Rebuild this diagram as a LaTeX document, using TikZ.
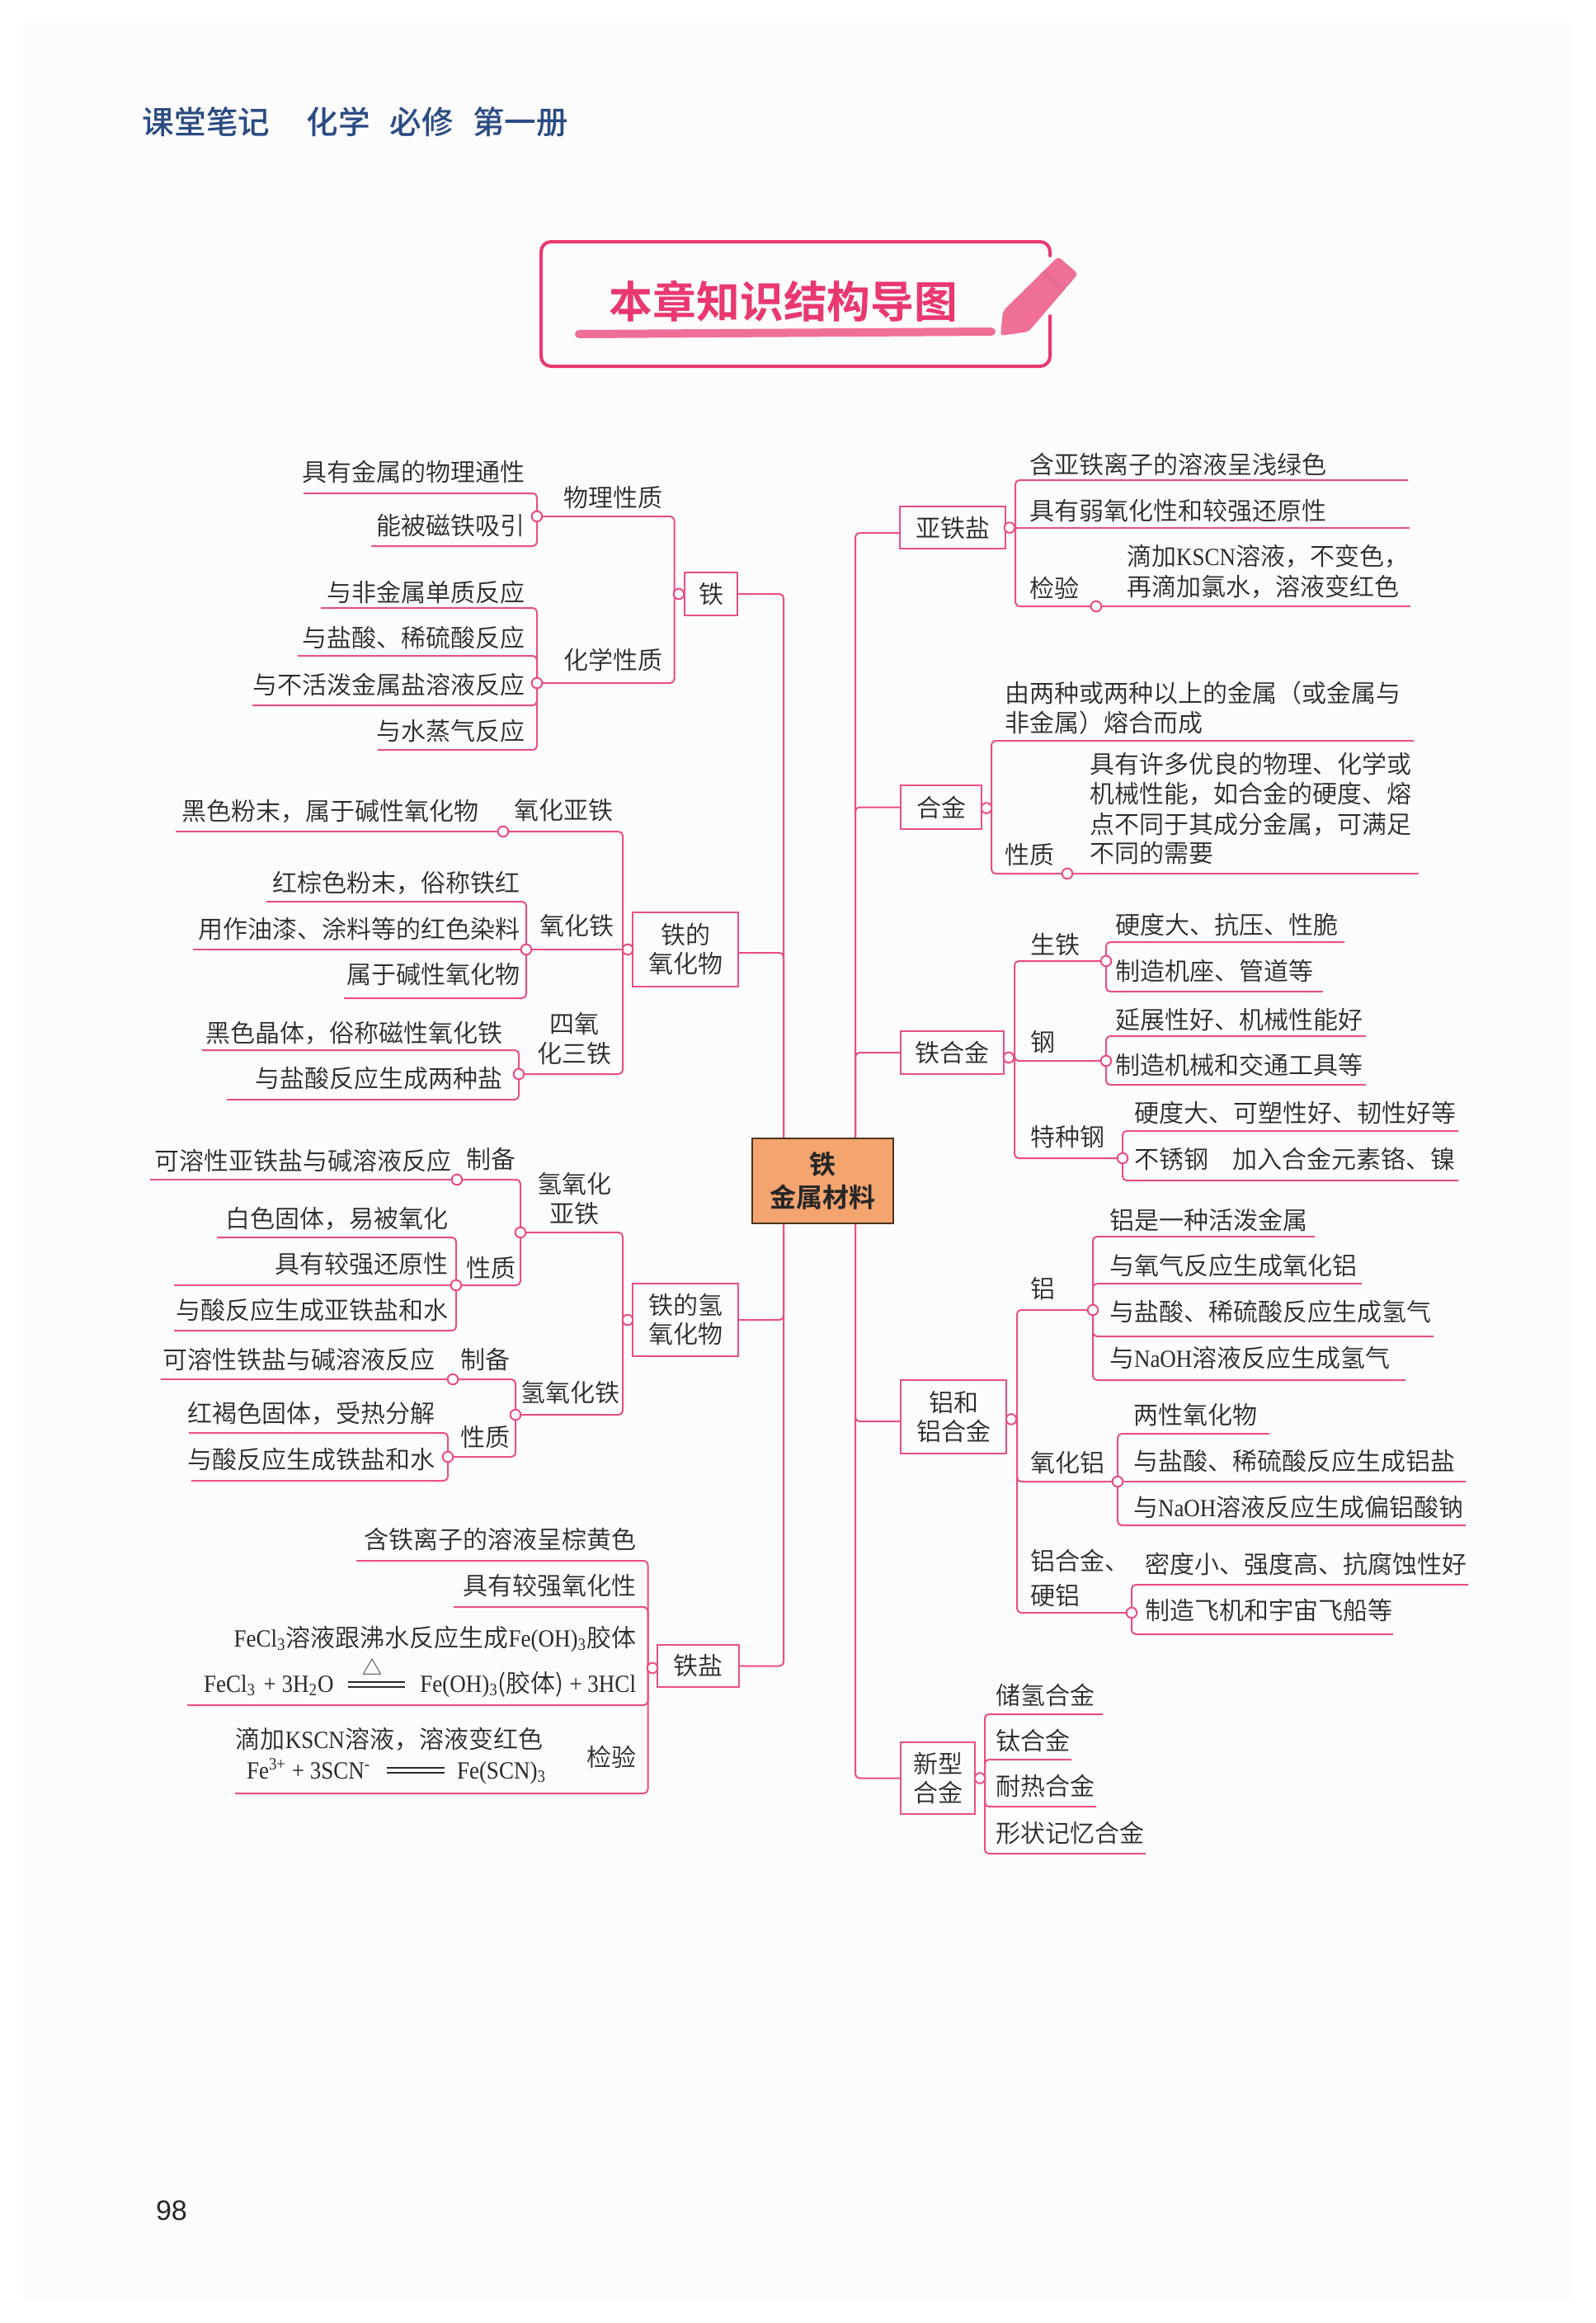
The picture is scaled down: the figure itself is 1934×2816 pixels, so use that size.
\documentclass[tikz,border=0pt]{standalone}
\usepackage{fontspec}
\setmainfont{Noto Sans CJK SC}[UprightFont=* DemiLight,BoldFont=* Bold]
\newfontfamily\latfont[FakeStretch=0.9]{Liberation Serif}
\newfontfamily\medfont{Noto Sans CJK SC Medium}
\newfontfamily\numfont{Liberation Sans}
\newcommand{\latn}[1]{{\latfont #1}}
\definecolor{linkpink}{HTML}{EA4F80}
\definecolor{titlepink}{HTML}{E9386F}
\definecolor{titlelight}{HTML}{EF6F96}
\definecolor{pencilband}{HTML}{EA6A92}
\definecolor{hubfill}{HTML}{F3A46F}
\definecolor{hubline}{HTML}{4A3420}
\definecolor{headblue}{HTML}{2B4B82}
\definecolor{inkgray}{HTML}{2A2A2A}
\definecolor{pagebg}{HTML}{FCFCFD}
\tikzset{
  line/.style={color=linkpink,line width=1pt,rounded corners=2.5pt},
  txt/.style={text=inkgray,font=\fontsize{15}{18}\selectfont,text height=13.2pt,text depth=1.8pt,inner sep=0pt,outer sep=0pt},
  tl/.style={txt,anchor=east},
  tr/.style={txt,anchor=west},
  tc/.style={txt,anchor=center},
  box/.style={draw=linkpink,line width=1pt,text=inkgray,font=\fontsize{15}{17.5}\selectfont,align=center,inner sep=0pt,outer sep=0pt},
  dot/.style={circle,draw=linkpink,fill=white,line width=1pt,minimum size=6.3pt,inner sep=0pt,outer sep=0pt},
  hub/.style={draw=hubline,fill=hubfill,line width=1pt,text=black!85,font=\bfseries\fontsize{16}{20}\selectfont,align=center,minimum width=85.5pt,minimum height=51.5pt,inner sep=0pt},
  head/.style={text=headblue,font=\medfont\fontsize{19.3}{22}\selectfont,inner sep=0pt},
  eqbar/.style={color=inkgray,line width=0.7pt,double=white,double distance=2.2pt}
}
\begin{document}
\begin{tikzpicture}[x=0.5pt,y=-0.5pt]
\useasboundingbox (0,0) rectangle (1934,2816);
\fill[pagebg] (28,28) rectangle (1906,2788);

\node[head] (hdA) at (250,148) {课堂笔记};
\node[head] (hdB) at (410,148) {化学};
\node[head] (hdC) at (511,148) {必修};
\node[head] (hdD) at (631,148) {第一册};
\node[txt,text=black!85,font=\numfont\fontsize{17}{20}\selectfont,text height=12pt,text depth=0pt] (pageno) at (208,2679) {98};

\draw[color=titlepink,line width=2pt,rounded corners=6pt,line cap=round] (1273,310) -- (1273,293) -- (656,293) -- (656,444) -- (1273,444) -- (1273,383);
\node[inner sep=0pt,text=titlepink,font=\bfseries\fontsize{26.4}{30}\selectfont] (title) at (950,365) {本章知识结构导图};
\draw[color=titlelight,line width=5pt,line cap=round] (702,405) -- (1202,402);
\fill[titlelight,rounded corners=2pt] (1213,407) -- (1216,377) -- (1283,311) -- (1307,332) -- (1247,402) -- cycle;
\fill[pencilband] (1262,332) -- (1267,327) -- (1292,349) -- (1288,354) -- cycle;

\node[box,minimum width=32pt,minimum height=26pt] (tie) at (862,720) {铁};
\node[box,minimum width=64pt,minimum height=44.8pt] (yanghua) at (831,1151) {铁的\\氧化物};
\node[box,minimum width=64pt,minimum height=44.3pt] (qingyang) at (831,1600) {铁的氢\\氧化物};
\node[box,minimum width=49.5pt,minimum height=25.5pt] (tieyan) at (846.5,2019.5) {铁盐};
\node[box,minimum width=64pt,minimum height=25.7pt] (yatie) at (1155,639.6) {亚铁盐};
\node[box,minimum width=49pt,minimum height=26.2pt] (hejin) at (1141,978.5) {合金};
\node[box,minimum width=62.5pt,minimum height=25.8pt] (tiehj) at (1154.5,1276) {铁合金};
\node[box,minimum width=64pt,minimum height=44.3pt] (lvhj) at (1156,1717.5) {铝和\\铝合金};
\node[box,minimum width=45pt,minimum height=43.8pt] (xinxing) at (1137,2155.5) {新型\\合金};

\coordinate (ltrunk) at (950,1431);
\coordinate (rtrunk) at (1037,1431);
\coordinate (oxj) at (895,1155);
\coordinate (fsj) at (1091,646);
\coordinate (ljj) at (1092,1723);
\draw[line] (tie.east) -| (ltrunk);
\draw[line] (oxj) -| (ltrunk);
\draw[line] (qingyang.east) -| (ltrunk);
\draw[line] (tieyan.east) -| (ltrunk);
\draw[line] (fsj) -| (rtrunk);
\draw[line] (hejin.west) -| (rtrunk);
\draw[line] (tiehj.west) -| (rtrunk);
\draw[line] (ljj) -| (rtrunk);
\draw[line] (xinxing.west) -| (rtrunk);

\coordinate (tieV) at (817.5,720);
\node[dot] (wlD) at (651,626) {};
\node[dot] (hxD) at (651,828) {};
\coordinate (wlA) at (368,598);
\coordinate (wlB) at (450,662);
\coordinate (hxA) at (389,737);
\coordinate (hxB) at (361,795);
\coordinate (hxC) at (306,855);
\coordinate (hxE) at (458,909);
\draw[line] (wlA) -| (wlD);
\draw[line] (wlB) -| (wlD);
\draw[line] (hxA) -| (hxD);
\draw[line] (hxB) -| (hxD);
\draw[line] (hxC) -| (hxD);
\draw[line] (hxE) -| (hxD);
\draw[line] (wlD) -| (tieV);
\draw[line] (hxD) -| (tieV);
\draw[line] (tieV) -- (tie.west);
\node[dot] (tieD) at (823,720) {};
\node[tl] (wlAt) at (636,572) {具有金属的物理通性};
\node[tl] (wlBt) at (636,637) {能被磁铁吸引};
\node[tc] (wlT) at (743,603) {物理性质};
\node[tl] (hxAt) at (636,718) {与非金属单质反应};
\node[tl] (hxBt) at (636,773) {与盐酸、稀硫酸反应};
\node[tl] (hxCt) at (636,830) {与不活泼金属盐溶液反应};
\node[tl] (hxEt) at (636,886) {与水蒸气反应};
\node[tc] (hxT) at (743,800) {化学性质};

\coordinate (oxV) at (755,1151);
\node[dot] (fgD) at (610,1008) {};
\node[dot] (foD) at (638,1151) {};
\node[dot] (ftD) at (629,1302) {};
\coordinate (fgA) at (213,1008);
\coordinate (foA) at (323,1093);
\coordinate (foB) at (234,1151);
\coordinate (foC) at (417,1210);
\coordinate (ftA) at (245,1273);
\coordinate (ftB) at (275,1333);
\draw[line] (fgA) -- (fgD);
\draw[line] (fgD) -| (oxV);
\draw[line] (foA) -| (foD);
\draw[line] (foB) -- (foD);
\draw[line] (foC) -| (foD);
\draw[line] (foD) -- (oxV);
\draw[line] (ftA) -| (ftD);
\draw[line] (ftB) -| (ftD);
\draw[line] (ftD) -| (oxV);
\draw[line] (oxV) -- (yanghua.west);
\node[dot] (oxD) at (761,1151) {};
\node[tl] (fgAt) at (580,983) {黑色粉末，属于碱性氧化物};
\node[tc] (fgT) at (683,982) {氧化亚铁};
\node[tl] (foAt) at (630,1070) {红棕色粉末，俗称铁红};
\node[tl] (foBt) at (630,1126) {用作油漆、涂料等的红色染料};
\node[tl] (foCt) at (630,1181) {属于碱性氧化物};
\node[tc] (foT) at (699,1122) {氧化铁};
\node[tl] (ftAt) at (609,1252) {黑色晶体，俗称磁性氧化铁};
\node[tl] (ftBt) at (609,1307) {与盐酸反应生成两种盐};
\node[tc] (ftTa) at (696,1241) {四氧};
\node[tc] (ftTb) at (696,1277) {化三铁};

\coordinate (qyV) at (755,1600);
\node[dot] (febD) at (631,1494) {};
\node[dot] (fbzD) at (554,1430) {};
\node[dot] (fbxD) at (553,1558) {};
\node[dot] (fcD) at (625,1715) {};
\node[dot] (fczD) at (549,1672) {};
\node[dot] (fcxD) at (543,1766) {};
\coordinate (fbzA) at (182,1430);
\coordinate (fbxA) at (263,1500);
\coordinate (fbxB) at (211,1558);
\coordinate (fbxC) at (211,1613);
\coordinate (fczA) at (195,1672);
\coordinate (fcxA) at (229,1737);
\coordinate (fcxB) at (232,1795);
\draw[line] (fbzA) -- (fbzD);
\draw[line] (fbzD) -| (febD);
\draw[line] (fbxA) -| (fbxD);
\draw[line] (fbxB) -- (fbxD);
\draw[line] (fbxC) -| (fbxD);
\draw[line] (fbxD) -| (febD);
\draw[line] (febD) -| (qyV);
\draw[line] (fczA) -- (fczD);
\draw[line] (fczD) -| (fcD);
\draw[line] (fcxA) -| (fcxD);
\draw[line] (fcxB) -| (fcxD);
\draw[line] (fcxD) -| (fcD);
\draw[line] (fcD) -| (qyV);
\draw[line] (qyV) -- (qingyang.west);
\node[dot] (qyD) at (761,1600) {};
\node[tl] (fbzAt) at (547,1407) {可溶性亚铁盐与碱溶液反应};
\node[tc] (fbzT) at (595,1405) {制备};
\node[tc] (febTa) at (696,1435) {氢氧化};
\node[tc] (febTb) at (696,1471) {亚铁};
\node[tl] (fbxAt) at (543,1477) {白色固体，易被氧化};
\node[tl] (fbxBt) at (543,1532) {具有较强还原性};
\node[tl] (fbxCt) at (543,1588) {与酸反应生成亚铁盐和水};
\node[tc] (fbxT) at (595,1537) {性质};
\node[tl] (fczAt) at (527,1648) {可溶性铁盐与碱溶液反应};
\node[tc] (fczT) at (588,1648) {制备};
\node[tc] (fcT) at (691,1688) {氢氧化铁};
\node[tl] (fcxAt) at (527,1713) {红褐色固体，受热分解};
\node[tl] (fcxBt) at (527,1769) {与酸反应生成铁盐和水};
\node[tc] (fcxT) at (588,1742) {性质};

\coordinate (tyV) at (785.5,2022);
\coordinate (tyA) at (432,1892);
\coordinate (tyB) at (550,1948);
\coordinate (tyC) at (227,2067);
\coordinate (tyE) at (285,2174);
\draw[line] (tyA) -| (tyV);
\draw[line] (tyB) -| (tyV);
\draw[line] (tyC) -| (tyV);
\draw[line] (tyE) -| (tyV);
\draw[line] (tyV) -- (tyV -| tieyan.west);
\node[dot] (tyD) at (791,2022) {};
\node[tl] (tyAt) at (771,1866) {含铁离子的溶液呈棕黄色};
\node[tl] (tyBt) at (771,1922) {具有较强氧化性};
\node[tl] (tyCt) at (771,1985) {\latn{FeCl\textsubscript{3}}溶液跟沸水反应生成\latn{Fe(OH)\textsubscript{3}}胶体};
\node[tr] (eqAl) at (247,2040) {\latn{FeCl\textsubscript{3}\kern1.5pt{} + 3H\textsubscript{2}O}};
\coordinate (eqAa) at (422,2042);
\coordinate (eqAb) at (491,2042);
\draw[eqbar] (eqAa) -- (eqAb);
\node[tc,font=\fontsize{12}{14}\selectfont,text height=9pt,text depth=1pt] (eqAt) at (451,2022) {△};
\node[tl] (eqAr) at (771,2040) {\latn{Fe(OH)\textsubscript{3}}(胶体)\latn{ + 3HCl}};
\node[tl] (tyEt) at (658,2108) {滴加\latn{KSCN}溶液，溶液变红色};
\node[tr] (eqBl) at (299,2145) {\latn{Fe\textsuperscript{3+} + 3SCN\textsuperscript{-}}};
\coordinate (eqBa) at (469,2146);
\coordinate (eqBb) at (539,2146);
\draw[eqbar] (eqBa) -- (eqBb);
\node[tr] (eqBr) at (554,2145) {\latn{Fe(SCN)\textsubscript{3}}};
\node[tl] (tyT) at (771,2130) {检验};

\coordinate (fsV) at (1231,639.6);
\node[dot] (fsjD) at (1329,735) {};
\coordinate (fsA) at (1707,582);
\coordinate (fsB) at (1709,639.6);
\coordinate (fsE) at (1710,735);
\draw[line] (fsA) -| (fsV);
\draw[line] (fsB) -- (fsV);
\draw[line] (fsE) -- (fsjD);
\draw[line] (fsjD) -| (fsV);
\draw[line] (fsV) -- (yatie.east);
\node[dot] (fsD) at (1224,639.6) {};
\node[tr] (fsAt) at (1248,563) {含亚铁离子的溶液呈浅绿色};
\node[tr] (fsBt) at (1248,619) {具有弱氧化性和较强还原性};
\node[tr] (fsT) at (1248,713) {检验};
\node[tr] (fsEa) at (1366,674) {滴加\latn{KSCN}溶液，不变色，};
\node[tr] (fsEb) at (1366,711) {再滴加氯水，溶液变红色};

\coordinate (hjV) at (1202,979.6);
\node[dot] (hjxD) at (1294,1059) {};
\coordinate (hjA) at (1714,898);
\coordinate (hjB) at (1720,1059);
\draw[line] (hjA) -| (hjV);
\draw[line] (hjB) -- (hjxD);
\draw[line] (hjxD) -| (hjV);
\draw[line] (hjV) -- (hjV -| hejin.east);
\node[dot] (hjD) at (1196,979.6) {};
\node[tr] (hjAa) at (1218,840) {由两种或两种以上的金属（或金属与};
\node[tr] (hjAb) at (1218,876) {非金属）熔合而成};
\node[tr] (hjT) at (1218,1036) {性质};
\node[tr] (hjBa) at (1321,926) {具有许多优良的物理、化学或};
\node[tr] (hjBb) at (1321,962) {机械性能，如合金的硬度、熔};
\node[tr] (hjBc) at (1321,999) {点不同于其成分金属，可满足};
\node[tr] (hjBe) at (1321,1034) {不同的需要};

\coordinate (thV) at (1230,1282);
\node[dot] (stD) at (1341,1165) {};
\node[dot] (gaD) at (1341,1286) {};
\node[dot] (tzD) at (1361,1404) {};
\coordinate (stA) at (1630,1142);
\coordinate (stB) at (1604,1202);
\coordinate (gaA) at (1656,1256);
\coordinate (gaB) at (1656,1315);
\coordinate (tzA) at (1768,1371);
\coordinate (tzB) at (1768,1431);
\draw[line] (stA) -| (stD);
\draw[line] (stB) -| (stD);
\draw[line] (gaA) -| (gaD);
\draw[line] (gaB) -| (gaD);
\draw[line] (tzA) -| (tzD);
\draw[line] (tzB) -| (tzD);
\draw[line] (stD) -| (thV);
\draw[line] (gaD) -| (thV);
\draw[line] (tzD) -| (thV);
\draw[line] (thV) -- (thV -| tiehj.east);
\node[dot] (thD) at (1223,1282) {};
\node[tr] (stT) at (1249,1145) {生铁};
\node[tr] (stAt) at (1352,1121) {硬度大、抗压、性脆};
\node[tr] (stBt) at (1352,1177) {制造机座、管道等};
\node[tr] (gaT) at (1249,1263) {钢};
\node[tr] (gaAt) at (1352,1236) {延展性好、机械性能好};
\node[tr] (gaBt) at (1352,1291) {制造机械和交通工具等};
\node[tr] (tzT) at (1249,1378) {特种钢};
\node[tr] (tzAt) at (1375,1349) {硬度大、可塑性好、韧性好等};
\node[tr] (tzBa) at (1375,1405) {不锈钢};
\node[tr] (tzBb) at (1494,1405) {加入合金元素铬、镍};

\coordinate (ljV) at (1233,1720.4);
\node[dot] (lvD) at (1325,1588) {};
\node[dot] (lyD) at (1355,1796) {};
\node[dot] (lhD) at (1372,1955) {};
\coordinate (lvA) at (1594,1499);
\coordinate (lvB) at (1651,1556);
\coordinate (lvC) at (1738,1620);
\coordinate (lvE) at (1704,1673);
\coordinate (lyA) at (1539,1738);
\coordinate (lyB) at (1777,1796);
\coordinate (lyC) at (1777,1849);
\coordinate (lhA) at (1780,1921);
\coordinate (lhB) at (1689,1981);
\draw[line] (lvA) -| (lvD);
\draw[line] (lvB) -| (lvD);
\draw[line] (lvC) -| (lvD);
\draw[line] (lvE) -| (lvD);
\draw[line] (lyA) -| (lyD);
\draw[line] (lyB) -- (lyD);
\draw[line] (lyC) -| (lyD);
\draw[line] (lhA) -| (lhD);
\draw[line] (lhB) -| (lhD);
\draw[line] (lvD) -| (ljV);
\draw[line] (lyD) -| (ljV);
\draw[line] (lhD) -| (ljV);
\draw[line] (ljV) -- (ljV -| lvhj.east);
\node[dot] (ljD) at (1226,1720.4) {};
\node[tr] (lvT) at (1249,1562) {铝};
\node[tr] (lvAt) at (1345,1479) {铝是一种活泼金属};
\node[tr] (lvBt) at (1345,1534) {与氧气反应生成氧化铝};
\node[tr] (lvCt) at (1345,1590) {与盐酸、稀硫酸反应生成氢气};
\node[tr] (lvEt) at (1345,1646) {与\latn{NaOH}溶液反应生成氢气};
\node[tr] (lyT) at (1249,1773) {氧化铝};
\node[tr] (lyAt) at (1374,1715) {两性氧化物};
\node[tr] (lyBt) at (1374,1771) {与盐酸、稀硫酸反应生成铝盐};
\node[tr] (lyCt) at (1374,1827) {与\latn{NaOH}溶液反应生成偏铝酸钠};
\node[tr] (lhTa) at (1249,1892) {铝合金、};
\node[tr] (lhTb) at (1249,1934) {硬铝};
\node[tr] (lhAt) at (1388,1896) {密度小、强度高、抗腐蚀性好};
\node[tr] (lhBt) at (1388,1952) {制造飞机和宇宙飞船等};

\coordinate (xxV) at (1194,2155.5);
\coordinate (xxA) at (1337,2078);
\coordinate (xxB) at (1299,2133);
\coordinate (xxC) at (1329,2190);
\coordinate (xxE) at (1389,2247);
\draw[line] (xxA) -| (xxV);
\draw[line] (xxB) -| (xxV);
\draw[line] (xxC) -| (xxV);
\draw[line] (xxE) -| (xxV);
\draw[line] (xxV) -- (xinxing.east);
\node[dot] (xxD) at (1188,2155.5) {};
\node[tr] (xxAt) at (1207,2055) {储氢合金};
\node[tr] (xxBt) at (1207,2110) {钛合金};
\node[tr] (xxCt) at (1207,2165) {耐热合金};
\node[tr] (xxEt) at (1207,2222) {形状记忆合金};

\node[hub] (core) at (997.5,1431.5) {铁\\金属材料};
\end{tikzpicture}
\end{document}
